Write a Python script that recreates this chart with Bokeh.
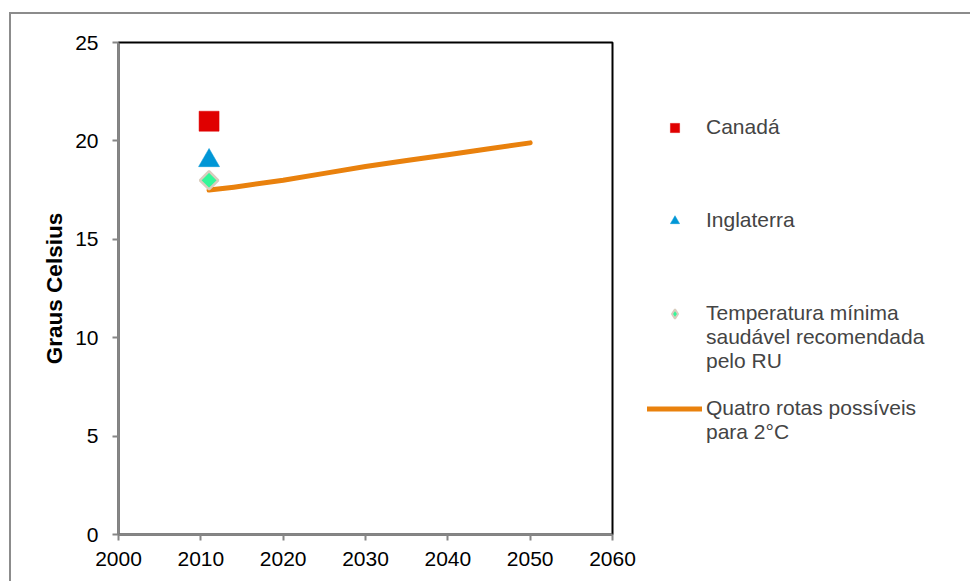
from bokeh.plotting import figure
from bokeh.models import Legend, LegendItem, Range1d, FixedTicker
from bokeh.embed import file_html
from bokeh.resources import INLINE
import math

# ---- data ----
marker_year = [2011]
canada = [21]
inglaterra = [19]
temp_minima = [18]
path_years = [2011, 2014, 2020, 2025, 2030, 2035, 2040, 2045, 2050]
path_temp = [17.5, 17.65, 18.0, 18.35, 18.7, 19.0, 19.3, 19.6, 19.9]
x_ticks = [2000, 2010, 2020, 2030, 2040, 2050, 2060]
y_ticks = [0, 5, 10, 15, 20, 25]
label_canada = ["Canadá"]
label_inglaterra = ["Inglaterra"]
label_temp = ["Temperatura mínima", "saudável recomendada", "pelo RU"]
label_rotas = ["Quatro rotas possíveis", "para 2°C"]

FONT = "Liberation Sans"
GREY = "#868686"

p = figure(frame_width=494, frame_height=492,
           x_range=Range1d(2000, 2060), y_range=Range1d(0, 25),
           output_backend="svg", toolbar_location=None,
           min_border_left=107, min_border_top=28, min_border_right=360,
           min_border_bottom=50, margin=(12, 0, 0, 9))
p.styles = {"border": "2px solid #8c8c8c", "background": "white"}

p.grid.visible = False
p.outline_line_color = "black"
p.outline_line_width = 2

for ax in (p.xaxis[0], p.yaxis[0]):
    ax.axis_line_color = GREY
    ax.axis_line_width = 2
    ax.major_tick_line_color = GREY
    ax.major_tick_line_width = 2
    ax.major_tick_out = 6
    ax.major_tick_in = 0
    ax.minor_tick_line_color = None
    ax.major_label_text_font = FONT
    ax.major_label_text_font_size = "21px"
    ax.major_label_text_color = "black"

p.xaxis.ticker = FixedTicker(ticks=x_ticks)
p.yaxis.ticker = FixedTicker(ticks=y_ticks)
p.xaxis.major_label_standoff = 11
p.yaxis.major_label_standoff = 14
p.yaxis.axis_label = "Graus Celsius"
p.yaxis.axis_label_text_font = FONT
p.yaxis.axis_label_text_font_size = "22.5px"
p.yaxis.axis_label_text_font_style = "bold"
p.yaxis.axis_label_text_color = "black"
p.yaxis.axis_label_standoff = 5

r_line = p.line(path_years, path_temp, line_color="#E9810D", line_width=5,
                line_cap="round", line_join="round")
r_ca = p.scatter(marker_year, canada, marker="square", size=20,
                 fill_color="#E00000", line_color="#E00000", line_width=0.5)
r_in = p.scatter(marker_year, inglaterra, marker="triangle", size=21,
                 fill_color="#0096D6", line_color="#0096D6", line_width=0.5)
r_tm = p.scatter(marker_year, temp_minima, marker="square", size=13,
                 angle=math.pi / 4, fill_color="#33F799",
                 line_color="#D9CDBE", line_width=2.5)
# same point as a diamond, hidden; only used for the legend symbol
r_tm_key = p.scatter(marker_year, temp_minima, marker="diamond", size=20,
                     fill_color="#33F799", line_color="#D9CDBE",
                     line_width=2, visible=False)

# legend: one slot per text line, blank slots as vertical spacing
def entry(lines, renderer, trailing_blanks):
    out = [LegendItem(label=lines[0], renderers=[renderer])]
    out += [LegendItem(label=t, renderers=[]) for t in lines[1:]]
    out += [LegendItem(label=" ", renderers=[]) for _ in range(trailing_blanks)]
    return out

items = (entry(label_canada, r_ca, 3) + entry(label_inglaterra, r_in, 3)
         + entry(label_temp, r_tm_key, 1) + entry(label_rotas, r_line, 0))

legend = Legend(items=items, location=(35, 90), padding=0, margin=0, spacing=0,
                border_line_alpha=0, background_fill_alpha=0,
                inactive_fill_alpha=0,
                glyph_width=55, glyph_height=23, label_height=23,
                label_standoff=4, label_text_font=FONT,
                label_text_font_size="21px")
p.add_layout(legend, "right")

open("out.html", "w").write(file_html(p, INLINE))
